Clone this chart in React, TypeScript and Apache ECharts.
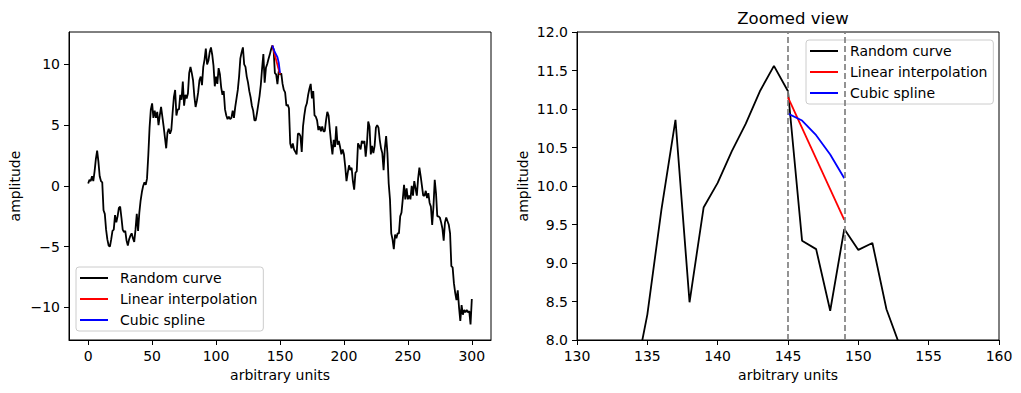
import React, { useEffect, useRef } from "react";
import * as echarts from "echarts";

// Random curve amplitude, one value per x = 0..300
const randomCurve: number[] = [
  0.2, 0.5, 0.4, 0.8, 0.4, 1.2, 2.2, 2.9, 2.0, 0.8, // 0-9
  0.4, 0.3, -2.0, -2.3, -3.6, -4.4, -4.9, -5.0, -4.4, -3.7, // 10-19
  -3.6, -2.4, -3.0, -2.5, -1.8, -1.7, -2.6, -3.6, -3.8, -3.7, // 20-29
  -4.5, -4.9, -4.4, -4.1, -3.9, -4.3, -4.6, -3.6, -2.3, -3.7, // 30-39
  -2.2, -1.2, -0.5, 0.0, 0.3, 0.1, 0.6, 2.5, 4.8, 6.3, // 40-49
  6.8, 5.6, 6.2, 5.6, 6.1, 5.0, 5.8, 6.5, 5.7, 4.9, // 50-59
  4.0, 3.1, 4.4, 4.7, 4.3, 4.6, 6.0, 7.3, 7.9, 5.8, // 60-69
  6.3, 6.3, 7.5, 7.1, 8.6, 6.6, 7.5, 7.2, 7.6, 9.3, // 70-79
  9.8, 9.3, 8.7, 7.4, 6.5, 7.0, 7.7, 8.7, 9.0, 8.3, // 80-89
  9.8, 10.4, 11.3, 10.0, 10.3, 11.0, 11.4, 10.8, 9.9, 8.2, // 90-99
  9.0, 8.4, 9.7, 9.2, 8.1, 7.5, 7.8, 6.3, 5.8, 5.5, // 100-109
  5.7, 5.5, 5.6, 6.2, 5.6, 6.5, 7.2, 7.9, 9.0, 10.5, // 110-119
  11.0, 11.4, 10.0, 9.8, 9.0, 8.5, 7.8, 7.3, 6.6, 6.2, // 120-129
  5.4, 5.4, 6.0, 6.7, 7.4, 8.33, 9.69, 10.86, 8.49, 9.72, // 130-139
  10.04, 10.45, 10.81, 11.23, 11.56, 11.23, 9.29, 9.18, 8.38, 9.44, // 140-149
  9.17, 9.26, 8.4, 7.9, 7.7, 6.6, 6.7, 6.4, 3.5, 3.1, // 150-159
  3.5, 3.0, 2.8, 2.6, 4.3, 4.3, 4.1, 2.8, 4.9, 5.8, // 160-169
  6.5, 6.8, 7.5, 8.0, 8.4, 7.2, 7.8, 5.8, 5.7, 5.4, // 170-179
  4.6, 4.9, 4.5, 4.9, 4.5, 4.5, 5.4, 6.1, 5.8, 4.6, // 180-189
  3.5, 2.6, 3.8, 3.2, 4.9, 3.4, 3.7, 3.2, 2.6, 3.0, // 190-199
  2.6, 1.6, 0.4, 1.1, 1.7, 1.3, 1.5, 0.4, -0.3, 1.1, // 200-209
  1.2, 3.5, 3.3, 3.0, 3.7, 3.5, 3.7, 2.4, 3.5, 5.3, // 210-219
  4.9, 2.6, 3.3, 2.7, 3.3, 4.8, 5.0, 4.8, 3.8, 3.1, // 220-229
  2.7, 1.3, 3.1, 4.1, 2.7, 0.2, -1.1, -3.9, -4.4, -5.2, // 230-239
  -4.0, -4.3, -3.9, -3.9, -2.5, -2.2, -1.1, 0.1, -1.1, -0.2, // 240-249
  -1.1, -0.8, -1.1, 0.0, -0.8, 0.4, -0.2, -0.8, 0.6, 1.5, // 250-259
  0.8, 0.0, -0.8, -0.8, -0.4, -1.0, -0.6, -1.4, -1.7, -3.2, // 260-269
  -1.7, 0.5, -0.6, -2.5, -2.5, -2.6, -3.0, -3.5, -4.5, -3.0, // 270-279
  -2.6, -2.9, -3.2, -3.9, -6.6, -6.7, -8.0, -8.8, -9.4, -8.6, // 280-289
  -10.0, -11.1, -9.8, -10.6, -10.2, -10.4, -10.2, -10.4, -10.3, -11.4, // 290-299
  -9.3, // 300
];

// Interpolations as drawn in the full view
const linearFullX = [144, 150];
const linearFullY = [11.56, 9.17];
const splineFullX = [144, 146, 148, 149, 150];
const splineFullY = [11.56, 11.0, 10.6, 10.15, 9.3];

// Interpolations as drawn in the zoomed view
const linearZoomX = [145, 149];
const linearZoomY = [11.15, 9.56];
const splineZoomX = [145, 146, 147, 148, 149];
const splineZoomY = [10.94, 10.85, 10.66, 10.41, 10.1];

const intervalBounds = [145, 149];

const fullXTicks = [0, 50, 100, 150, 200, 250, 300];
const fullYTicks = [-10, -5, 0, 5, 10];

const seriesNames = ["Random curve", "Linear interpolation", "Cubic spline"];
const FONT = "DejaVu Sans";

const pair = (xs: number[], ys: number[]) => xs.map((x, i) => [x, ys[i]]);

const fmtNum = (v: number) => (v < 0 ? "\u2212" + Math.abs(v) : String(v));

export default function App() {
  const ref = useRef<HTMLDivElement>(null);
  useEffect(() => {
    document.body.style.margin = "0";
    const chart = echarts.init(ref.current!, null, { renderer: "svg" });
    const curve = randomCurve.map((v, i) => [i, v]);
    const axisLabelBase = { color: "#000", fontSize: 14, fontFamily: FONT };
    const axisLineBase = { show: true, onZero: false, lineStyle: { color: "#000", width: 1 } };
    const tickBase = { show: true, inside: false, length: 5, lineStyle: { color: "#000", width: 1 } };
    const nameStyle = { color: "#000", fontSize: 14, fontFamily: FONT };
    const legendBase = {
      orient: "vertical",
      selectedMode: false,
      icon: "rect",
      itemWidth: 28,
      itemHeight: 2,
      itemGap: 7,
      backgroundColor: "#fff",
      borderColor: "#cccccc",
      borderWidth: 1,
      borderRadius: 3,
      padding: [4, 6, 4, 4],
      textStyle: { color: "#000", fontSize: 14, fontFamily: FONT, padding: [0, 0, 0, 7] },
      data: seriesNames,
    };
    const lineBase = { type: "line", showSymbol: false, symbol: "none", lineStyle: { width: 1.8 } };
    chart.setOption({
      animation: false,
      textStyle: { fontFamily: FONT },
      title: {
        text: "Zoomed view",
        left: 788,
        top: 5,
        textAlign: "center",
        textStyle: { color: "#000", fontSize: 16.5, fontWeight: "normal", fontFamily: FONT },
      },
      grid: [
        { left: 69, top: 32, width: 422, height: 308, show: true, borderColor: "#000", borderWidth: 1, containLabel: false },
        { left: 577, top: 32, width: 422, height: 308, show: true, borderColor: "#000", borderWidth: 1, containLabel: false },
      ],
      xAxis: [
        {
          gridIndex: 0,
          type: "value",
          min: -15,
          max: 315,
          name: "arbitrary units",
          nameLocation: "middle",
          nameGap: 28,
          nameTextStyle: nameStyle,
          axisLine: axisLineBase,
          axisTick: { ...tickBase, customValues: fullXTicks },
          axisLabel: { ...axisLabelBase, margin: 9, customValues: fullXTicks, formatter: fmtNum },
          splitLine: { show: false },
        },
        {
          gridIndex: 1,
          type: "value",
          min: 130,
          max: 160,
          interval: 5,
          name: "arbitrary units",
          nameLocation: "middle",
          nameGap: 28,
          nameTextStyle: nameStyle,
          axisLine: axisLineBase,
          axisTick: tickBase,
          axisLabel: { ...axisLabelBase, margin: 9, showMinLabel: true, showMaxLabel: true },
          splitLine: { show: false },
        },
      ],
      yAxis: [
        {
          gridIndex: 0,
          type: "value",
          min: -12.68,
          max: 12.67,
          name: "amplitude",
          nameLocation: "middle",
          nameGap: 47,
          nameTextStyle: nameStyle,
          axisLine: axisLineBase,
          axisTick: { ...tickBase, customValues: fullYTicks },
          axisLabel: { ...axisLabelBase, margin: 9, customValues: fullYTicks, formatter: fmtNum },
          splitLine: { show: false },
        },
        {
          gridIndex: 1,
          type: "value",
          min: 8,
          max: 12,
          interval: 0.5,
          name: "amplitude",
          nameLocation: "middle",
          nameGap: 47,
          nameTextStyle: nameStyle,
          axisLine: axisLineBase,
          axisTick: tickBase,
          axisLabel: { ...axisLabelBase, margin: 9, formatter: (v: number) => v.toFixed(1) },
          splitLine: { show: false },
        },
      ],
      legend: [
        { ...legendBase, left: 76, top: 267 },
        { ...legendBase, left: 806, top: 40 },
      ],
      series: [
        { ...lineBase, name: seriesNames[0], xAxisIndex: 0, yAxisIndex: 0, color: "#000000", data: curve },
        { ...lineBase, name: seriesNames[1], xAxisIndex: 0, yAxisIndex: 0, color: "#ff0000", data: pair(linearFullX, linearFullY) },
        { ...lineBase, name: seriesNames[2], xAxisIndex: 0, yAxisIndex: 0, color: "#0000ff", data: pair(splineFullX, splineFullY) },
        {
          ...lineBase,
          name: seriesNames[0],
          xAxisIndex: 1,
          yAxisIndex: 1,
          color: "#000000",
          clip: true,
          data: curve,
          markLine: {
            silent: true,
            symbol: "none",
            label: { show: false },
            lineStyle: { color: "#808080", type: [6, 3], width: 1.7 },
            data: intervalBounds.map((x) => ({ xAxis: x })),
          },
        },
        { ...lineBase, name: seriesNames[1], xAxisIndex: 1, yAxisIndex: 1, color: "#ff0000", clip: true, data: pair(linearZoomX, linearZoomY) },
        { ...lineBase, name: seriesNames[2], xAxisIndex: 1, yAxisIndex: 1, color: "#0000ff", clip: true, data: pair(splineZoomX, splineZoomY) },
      ],
    });
    return () => chart.dispose();
  }, []);
  return <div ref={ref} style={{ width: 1021, height: 393 }} />;
}
